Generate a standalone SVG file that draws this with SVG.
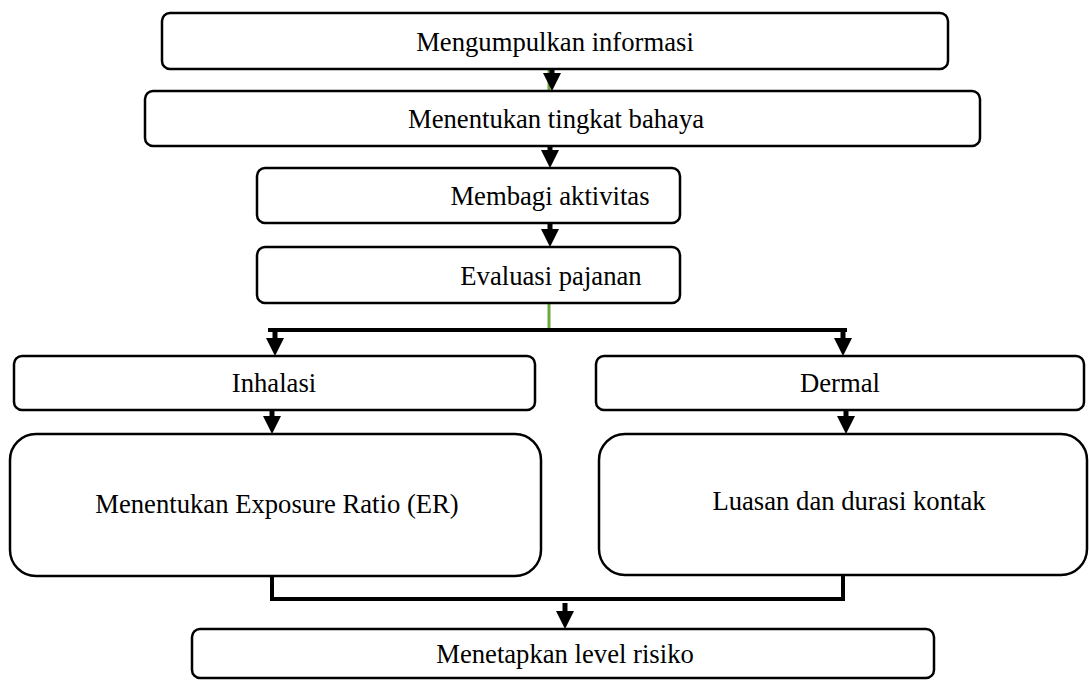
<svg xmlns="http://www.w3.org/2000/svg" width="1089" height="680" viewBox="0 0 1089 680">
<style>
.box{fill:#fff;stroke:#000;stroke-width:2.5}
.t{font-family:"Liberation Serif","Times New Roman","DejaVu Serif",serif;font-size:26.67px;fill:#000;text-anchor:middle}
.c{fill:none;stroke:#000;stroke-width:4}
.a{fill:none;stroke:#000;stroke-width:5;marker-end:url(#ah)}
.g{fill:none;stroke:#6aaa3a;stroke-width:3}
</style>
<defs>
<marker id="ah" markerUnits="userSpaceOnUse" markerWidth="19" markerHeight="18" refX="0" refY="9" orient="auto" overflow="visible">
<path d="M0,0 L18,9 L0,18 z" fill="#000"/>
</marker>
</defs>
<rect width="1089" height="680" fill="#fff"/>
<g id="connectors">
<line class="g" x1="549" y1="69" x2="549" y2="90"/>
<line class="a" x1="552" y1="68" x2="552" y2="73"/>
<line class="a" x1="550" y1="146" x2="550" y2="150"/>
<line class="a" x1="550" y1="223" x2="550" y2="229"/>
<line class="g" x1="549" y1="303" x2="549" y2="331"/>
<line class="c" x1="268" y1="330" x2="847" y2="330"/>
<line class="a" x1="275" y1="330" x2="275" y2="338"/>
<line class="a" x1="843" y1="330" x2="843" y2="338"/>
<line class="a" x1="272" y1="410" x2="272" y2="416"/>
<line class="a" x1="846" y1="410" x2="846" y2="416"/>
<path class="c" d="M272,576 V599 H843 V575"/>
<line class="a" x1="565" y1="603" x2="565" y2="611"/>
</g>
<g id="n1"><rect class="box" x="162" y="13" width="786" height="56" rx="8"/><text class="t" x="555" y="51">Mengumpulkan informasi</text></g>
<g id="n2"><rect class="box" x="145" y="91" width="835" height="55" rx="8"/><text class="t" x="556" y="128">Menentukan tingkat bahaya</text></g>
<g id="n3"><rect class="box" x="257" y="168" width="423" height="55" rx="8"/><text class="t" x="550" y="205">Membagi aktivitas</text></g>
<g id="n4"><rect class="box" x="257" y="247" width="423" height="56" rx="8"/><text class="t" x="551" y="285">Evaluasi pajanan</text></g>
<g id="n5"><rect class="box" x="14" y="356" width="521" height="54" rx="8"/><text class="t" x="274" y="392">Inhalasi</text></g>
<g id="n6"><rect class="box" x="596" y="356" width="488" height="54" rx="8"/><text class="t" x="840" y="392">Dermal</text></g>
<g id="n7"><rect class="box" x="10" y="434" width="531" height="142" rx="26"/><text class="t" x="277" y="513">Menentukan Exposure Ratio (ER)</text></g>
<g id="n8"><rect class="box" x="599" y="434" width="488" height="141" rx="26"/><text class="t" x="849" y="510">Luasan dan durasi kontak</text></g>
<g id="n9"><rect class="box" x="192" y="629" width="742" height="49" rx="8"/><text class="t" x="565" y="663">Menetapkan level risiko</text></g>
</svg>
